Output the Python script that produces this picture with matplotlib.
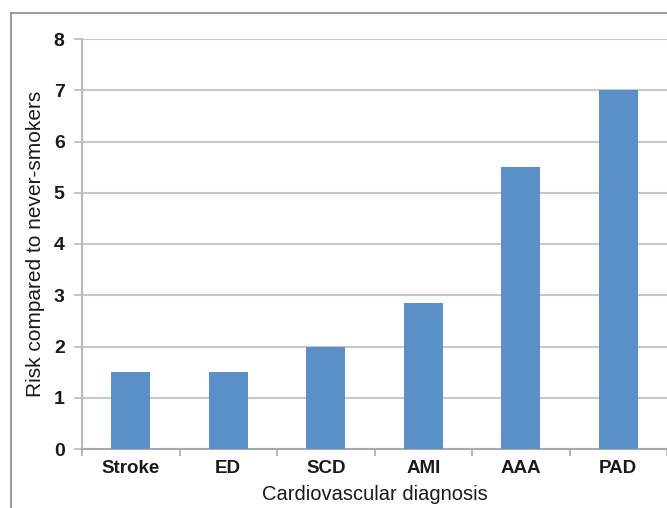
import matplotlib.pyplot as plt
from matplotlib.lines import Line2D
import numpy as np

# data
diagnoses = ["Stroke", "ED", "SCD", "AMI", "AAA", "PAD"]
risk = [1.5, 1.5, 2.0, 2.85, 5.5, 7.0]
yticks = [0, 1, 2, 3, 4, 5, 6, 7, 8]

plt.rcParams['font.family'] = ['Liberation Sans', 'DejaVu Sans']

fig = plt.figure(figsize=(6.67, 5.08), dpi=100)
ax = fig.add_axes([82/667, 59/508, 1 - 82/667, (449 - 39)/508])

x = np.arange(len(diagnoses))
ax.bar(x, risk, width=0.4, color="#5b8fc8", zorder=3)

ax.set_xlim(-0.5, len(diagnoses) - 0.5)
ax.set_ylim(0, 8)
ax.set_yticks(yticks)
ax.set_yticklabels([str(v) for v in yticks], fontsize=14, fontweight='bold', color="#1a1a1a")
ax.yaxis.grid(True, color="#c8c8c8", linewidth=1.5, zorder=0)

# category labels, ticks at the boundaries
ax.set_xticks(x)
ax.set_xticklabels(diagnoses, fontsize=13.5, fontweight='bold', color="#1a1a1a")
ax.tick_params(axis='x', length=0, pad=8)
ax.set_xticks(np.arange(len(diagnoses) + 1) - 0.5, minor=True)
ax.tick_params(axis='x', which='minor', length=5, color="#aaaaaa", width=1.2)
ax.tick_params(axis='y', length=6, color="#bbbbbb", width=1.2, pad=6.5)

for s in ['top', 'right']:
    ax.spines[s].set_visible(False)
ax.spines['left'].set_color("#bbbbbb")
ax.spines['left'].set_linewidth(1.5)
ax.spines['bottom'].set_color("#aaaaaa")
ax.spines['bottom'].set_linewidth(1.5)

ax.set_ylabel("Risk compared to never-smokers", fontsize=15, labelpad=6, color="#1a1a1a")
ax.set_xlabel("Cardiovascular diagnosis", fontsize=14.5, labelpad=6, color="#1a1a1a")

# outer frame (cut at the right and bottom edges)
fig.add_artist(Line2D([11/667, 11/667], [0, 1 - 13/508], transform=fig.transFigure,
                      color="#8a8a8a", linewidth=1.2))
fig.add_artist(Line2D([11/667, 1], [1 - 13/508, 1 - 13/508], transform=fig.transFigure,
                      color="#8a8a8a", linewidth=1.2))

fig.savefig("out.png", dpi=100)
